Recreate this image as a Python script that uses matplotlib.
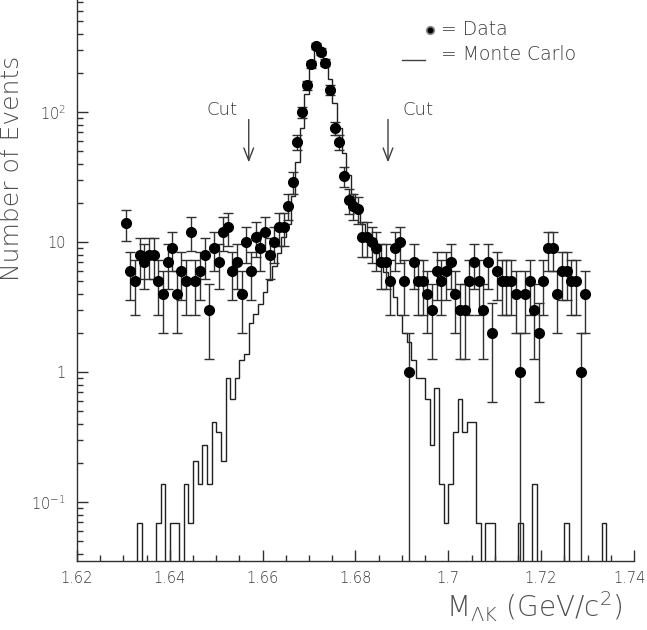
import numpy as np
import matplotlib
matplotlib.use("Agg")
import matplotlib.pyplot as plt
from matplotlib.lines import Line2D
from matplotlib.transforms import ScaledTranslation
from matplotlib.ticker import FixedLocator, MultipleLocator, NullFormatter, FixedFormatter, LogLocator

# ---------------- data ----------------
bin_width = 0.001
data_start = 1.630          # lower edge of first data bin
data_counts = [14, 6, 5, 8, 7, 8, 8, 5, 4, 7, 9, 4, 6, 5, 12, 5, 6, 8, 3, 9,
               7, 12, 13, 6, 7, 4, 10, 6, 11, 9, 12, 8, 10, 13, 13,
               19, 29, 59, 100, 161, 233, 322, 291, 240, 148, 75, 59, 32, 21, 19, 18, 11,
               11, 10, 9, 7, 7, 5, 9, 10, 5, 1, 7, 5, 5, 4, 3, 6, 5, 6, 7, 4, 3, 3, 5,
               7, 5, 3, 7, 2, 6, 5, 5, 5, 4, 1, 4, 5, 3, 2, 5, 9, 9, 4, 6, 6, 5, 5, 1, 4]

mc_start = 1.630            # lower edge of first MC bin
mc_scale = 0.0686           # weight of one MC event
mc_counts = [0, 0, 0, 1, 0, 0, 0, 1, 2, 0,            # 1.630-1.639
             1, 1, 0, 2, 1, 3, 2, 4, 2, 6,            # 1.640-1.649
             5, 3, 13, 9, 13, 18, 20, 35, 41, 49,     # 1.650-1.659
             60, 75, 95, 120, 160, 200, 330, 600, 1100, 2000,   # 1.660-1.669
             3300, 4700, 4600, 3700, 2600, 1700, 1100, 700, 480, 340,  # 1.670-1.679
             250, 200, 170, 140, 120, 100, 85, 70, 55, 40,    # 1.680-1.689
             29, 25, 18, 13, 13, 9, 4, 11, 2, 1,      # 1.690-1.699
             2, 5, 9, 5, 6, 6, 1, 0, 1, 1,            # 1.700-1.709
             0, 0, 0, 0, 0, 1, 0, 0, 2, 0,            # 1.710-1.719
             0, 0, 0, 0, 0, 1, 0, 0, 0, 0,            # 1.720-1.729
             0, 0, 0, 1, 0]                           # 1.730-1.734

x_range = (1.62, 1.74)
y_range = (0.0352, 727.0)
x_tick_values = [1.62, 1.64, 1.66, 1.68, 1.70, 1.72, 1.74]
x_tick_labels = ["1.62", "1.64", "1.66", "1.68", "1.7", "1.72", "1.74"]
y_tick_values = [0.1, 1, 10, 100]
y_tick_labels = [r"$10^{-1}$", "1", "10", r"$10^{2}$"]
cut_positions = [1.657, 1.687]

# ---------------- figure ----------------
plt.rcParams["mathtext.fontset"] = "custom"
plt.rcParams["mathtext.rm"] = "DejaVu Sans:light"
plt.rcParams["mathtext.it"] = "DejaVu Sans:light"
plt.rcParams["mathtext.sf"] = "DejaVu Sans:light"
plt.rcParams["mathtext.default"] = "rm"

W, H = 647, 630
fig = plt.figure(figsize=(W / 100, H / 100), dpi=100)
ax = fig.add_axes([77 / W, 69 / H, (634 - 77) / W, (H - 69) / H])

txt_col = "#3a3a3a"

counts = np.array(data_counts, dtype=float)
centers = data_start + bin_width * (np.arange(len(counts)) + 0.5)
err = np.sqrt(counts)
lower = np.minimum(err, counts - 1e-4)
ax.errorbar(centers, counts, yerr=[lower, err], fmt="none", ecolor="#303030",
            elinewidth=1.0, capsize=3.3, capthick=1.0, zorder=2)
ax.plot(centers, counts, "o", color="black", markersize=7, zorder=3)

mc = np.array(mc_counts, dtype=float) * mc_scale
mc = np.where(mc > 0, mc, 1e-5)
edges = mc_start + bin_width * np.arange(len(mc) + 1)
ax.stairs(mc, edges, baseline=1e-5, color="#202020", linewidth=1.0, zorder=1)

ax.set_yscale("log")
ax.set_xlim(*x_range)
ax.set_ylim(*y_range)

for s in ["top", "right"]:
    ax.spines[s].set_visible(False)
for s in ["left", "bottom"]:
    ax.spines[s].set_color("#303030")
    ax.spines[s].set_linewidth(1.0)

ax.xaxis.set_major_locator(FixedLocator(x_tick_values))
ax.xaxis.set_major_formatter(FixedFormatter(x_tick_labels))
ax.xaxis.set_minor_locator(MultipleLocator(0.005))
ax.yaxis.set_major_locator(FixedLocator(y_tick_values))
ax.yaxis.set_major_formatter(FixedFormatter(y_tick_labels))
ax.yaxis.set_minor_locator(LogLocator(base=10, subs=np.arange(2, 10)))
ax.yaxis.set_minor_formatter(NullFormatter())
ax.tick_params(axis="both", which="major", direction="in", length=8, width=1,
               color="#303030", labelsize=10.5, labelcolor=txt_col)
ax.tick_params(axis="both", which="minor", direction="in", length=4.5, width=1,
               color="#303030")
ax.tick_params(axis="x", which="major", pad=7)
ax.tick_params(axis="y", which="major", pad=8)
for lab in ax.get_xticklabels() + ax.get_yticklabels():
    lab.set_fontweight("light")

last = ax.get_xticklabels()[-1]
last.set_transform(last.get_transform() + ScaledTranslation(-4 / 100, 0, fig.dpi_scale_trans))

ax.set_ylabel("Number of Events", fontsize=18, color="#505050", fontweight="light")
ax.yaxis.set_label_coords(-0.095, 0.70)
ax.set_xlabel(r"M$_{\Lambda\mathrm{K}}$ (GeV/c$^{2}$)", fontsize=20, color="#505050",
              va="center", fontweight="light")
ax.xaxis.set_label_coords(0.82, -0.082)

# cut arrows
for cx, tx in zip(cut_positions, [1.6512, 1.6935]):
    ax.annotate("", xy=(cx, 39), xytext=(cx, 92),
                arrowprops=dict(arrowstyle="->,head_length=0.9,head_width=0.35",
                                color="#404040", lw=1.0))
    ax.text(tx, 104, "Cut", fontsize=13, color=txt_col, ha="center", va="center",
            fontweight="light")

# legend
fig.add_artist(Line2D([430 / W], [1 - 30 / H], marker="o", color="black",
                      markersize=5.5, markeredgecolor="#888888", markeredgewidth=1.2,
                      linestyle="none", transform=fig.transFigure))
fig.text(441 / W, 1 - 35 / H, "= Data", fontsize=13.5, color=txt_col, va="baseline",
         fontweight="light")
fig.add_artist(Line2D([402 / W, 425 / W], [1 - 60 / H, 1 - 60 / H], color="#404040",
                      lw=1.0, transform=fig.transFigure))
fig.text(441 / W, 1 - 60 / H, "= Monte Carlo", fontsize=13.5, color=txt_col,
         va="baseline", fontweight="light")

fig.savefig("out.png", dpi=100)
